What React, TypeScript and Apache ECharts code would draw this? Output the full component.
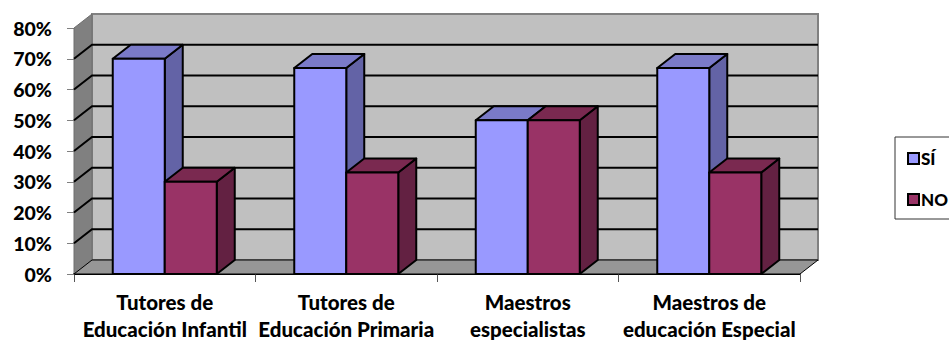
import React, { useEffect, useRef } from "react";
import * as echarts from "echarts";

const categories = [
  "Tutores de\nEducación Infantil",
  "Tutores de\nEducación Primaria",
  "Maestros\nespecialistas",
  "Maestros de\neducación Especial",
];
const siValues = [70, 67, 50, 67];
const noValues = [30, 33, 50, 33];
const gridTicks = [0, 10, 20, 30, 40, 50, 60, 70, 80];

const FONT = "Lato, Carlito, sans-serif";
const DX = 18; // horizontal depth of the 3D box
const DY = 14; // vertical depth of the 3D box
const BAR_RATIO = 52 / 181.5;

// One prism: front face, top face, right side face.
function prismItem(offsetSign: number, front: string, top: string, side: string) {
  return (_params: any, api: any) => {
    const base = api.coord([api.value(0), 0]);
    const head = api.coord([api.value(0), api.value(1)]);
    const w = api.size([1, 0])[0] * BAR_RATIO;
    const x0 = base[0] + (offsetSign < 0 ? -w : 0);
    const x1 = x0 + w;
    const y0 = head[1];
    const y1 = base[1];
    const lineStyle = { stroke: "#000", lineWidth: 2, lineJoin: "round" };
    return {
      type: "group",
      children: [
        {
          type: "polygon",
          shape: { points: [[x1, y0], [x1 + DX, y0 - DY], [x1 + DX, y1 - DY], [x1, y1]] },
          style: { fill: side, ...lineStyle },
        },
        {
          type: "polygon",
          shape: { points: [[x0, y0], [x0 + DX, y0 - DY], [x1 + DX, y0 - DY], [x1, y0]] },
          style: { fill: top, ...lineStyle },
        },
        {
          type: "rect",
          shape: { x: x0, y: y0, width: w, height: y1 - y0 },
          style: { fill: front, ...lineStyle },
        },
      ],
    };
  };
}

export default function App() {
  const ref = useRef<HTMLDivElement>(null);

  useEffect(() => {
    const chart = echarts.init(ref.current!, undefined, { renderer: "svg" });
    chart.setOption({
      animation: false,
      backgroundColor: "#fff",
      textStyle: { fontFamily: FONT },
      grid: { left: 74, right: 149, top: 28, bottom: 67, outerBoundsMode: "none" },
      legend: {
        orient: "vertical",
        left: 895,
        top: 137,
        padding: [11, 30, 9, 12],
        itemGap: 20,
        itemWidth: 11,
        itemHeight: 11,
        icon: "rect",
        borderColor: "#333",
        borderWidth: 1,
        selectedMode: false,
        data: [
          { name: "SÍ", itemStyle: { color: "#9999FF", borderColor: "#000", borderWidth: 2 } },
          { name: "NO", itemStyle: { color: "#993366", borderColor: "#000", borderWidth: 2 } },
        ],
        textStyle: { fontFamily: FONT, fontWeight: 900, fontSize: 17, lineHeight: 21, color: "#000", padding: [0, 0, 0, -3] },
      },
      xAxis: {
        type: "category",
        data: categories,
        axisLine: { show: true, lineStyle: { color: "#000", width: 2 } },
        axisTick: { show: true, length: 8, alignWithLabel: false, lineStyle: { color: "#555", width: 1 } },
        axisLabel: {
          interval: 0,
          margin: 14,
          fontFamily: FONT,
          fontWeight: 900,
          fontSize: 20.5,
          lineHeight: 27,
          color: "#000",
        },
      },
      yAxis: {
        type: "value",
        min: 0,
        max: 80,
        interval: 10,
        splitLine: { show: false },
        axisLine: { show: false },
        axisTick: { show: true, length: 7, lineStyle: { color: "#808080", width: 1 } },
        axisLabel: {
          margin: 22,
          fontFamily: FONT,
          fontWeight: 900,
          fontSize: 19.5,
          color: "#000",
          formatter: "{value}%",
          padding: [4, 0, 0, 0],
        },
      },
      series: [
        {
          // Back wall, side wall and floor of the 3D box
          type: "custom",
          silent: true,
          z: 1,
          data: [[0, 0]],
          renderItem: (params: any) => {
            const { x, y, width: w, height: h } = params.coordSys;
            return {
              type: "group",
              children: [
                {
                  type: "rect",
                  shape: { x: x + DX, y: y - DY, width: w, height: h },
                  style: { fill: "#C0C0C0", stroke: "#808080", lineWidth: 2 },
                },
                {
                  type: "polygon",
                  shape: { points: [[x, y], [x + DX, y - DY], [x + DX, y + h - DY], [x, y + h]] },
                  style: { fill: "#808080", stroke: "#6e6e6e", lineWidth: 1 },
                },
                {
                  type: "polygon",
                  shape: { points: [[x, y + h], [x + DX, y + h - DY], [x + w + DX, y + h - DY], [x + w, y + h]] },
                  style: { fill: "#969696", stroke: "#000", lineWidth: 1 },
                },
              ],
            };
          },
        },
        {
          // Gridlines wrapping the side wall and the back wall
          type: "custom",
          silent: true,
          z: 2,
          data: gridTicks.filter((t) => t > 0 && t < 80).map((t) => [0, t]),
          renderItem: (params: any, api: any) => {
            const { x, width: w } = params.coordSys;
            const yy = api.coord([0, api.value(1)])[1];
            return {
              type: "polyline",
              shape: { points: [[x, yy], [x + DX, yy - DY], [x + w + DX, yy - DY]] },
              style: { fill: "none", stroke: "#000", lineWidth: 2 },
            };
          },
        },
        {
          name: "SÍ",
          type: "custom",
          z: 3,
          itemStyle: { color: "#9999FF" },
          data: siValues.map((v, i) => [i, v]),
          encode: { x: 0, y: 1 },
          renderItem: prismItem(-1, "#9999FF", "#7A7AC8", "#6363A6"),
        },
        {
          name: "NO",
          type: "custom",
          z: 4,
          itemStyle: { color: "#993366" },
          data: noValues.map((v, i) => [i, v]),
          encode: { x: 0, y: 1 },
          renderItem: prismItem(1, "#993366", "#7A2950", "#632142"),
        },
      ],
    });
    return () => chart.dispose();
  }, []);

  return <div ref={ref} style={{ position: "absolute", left: 0, top: 0, width: 949, height: 341 }} />;
}
